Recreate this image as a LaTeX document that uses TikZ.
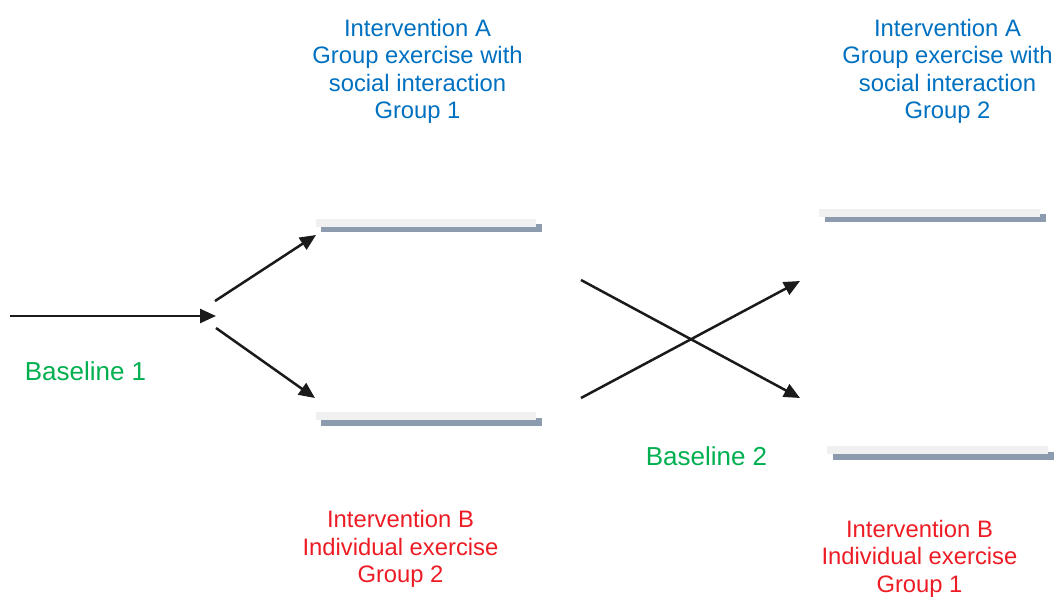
\documentclass[tikz,border=0pt]{standalone}
\usepackage{fontspec}
\setmainfont{Liberation Sans}
\usetikzlibrary{arrows.meta}
\definecolor{txtblue}{RGB}{0,112,192}
\definecolor{txtgreen}{RGB}{0,176,80}
\definecolor{txtred}{RGB}{237,28,36}
\definecolor{barlight}{RGB}{240,240,240}
\definecolor{bardark}{RGB}{140,155,174}
\definecolor{arrowcol}{RGB}{26,26,26}
\begin{document}
\begin{tikzpicture}[x=1pt,y=-1pt,
  conn/.style={draw=arrowcol,line width=2.5pt,-{Triangle[length=16pt,width=14pt]}},
  lightbar/.style={fill=barlight,draw=none},
  darkbar/.style={fill=bardark,draw=none},
  bluetxt/.style={text=txtblue,align=center,inner sep=0pt,font=\fontsize{23.8}{27.3}\selectfont},
  redtxt/.style={text=txtred,align=center,inner sep=0pt,font=\fontsize{23.8}{27.3}\selectfont},
  greentxt/.style={text=txtgreen,inner sep=0pt,font=\fontsize{26}{30}\selectfont}]
\useasboundingbox (0,0) rectangle (1055,597);
% bars
\fill[darkbar] (321,224) rectangle (542,232);
\fill[lightbar] (316,219) rectangle (536,227);
\fill[darkbar] (321,418) rectangle (542,426);
\fill[lightbar] (316,412) rectangle (536,420);
\fill[darkbar] (825,214) rectangle (1046,222);
\fill[lightbar] (819,209) rectangle (1040,217);
\fill[darkbar] (833,452) rectangle (1054,460);
\fill[lightbar] (827,446) rectangle (1048,454);
% connector end points
\coordinate (s0) at (10,316);
\coordinate (fork) at (216,316);
\coordinate (u0) at (215,301);
\coordinate (u1) at (316,235);
\coordinate (l0) at (216,328);
\coordinate (l1) at (315,398);
\coordinate (c1a) at (581,280);
\coordinate (c1b) at (800,398);
\coordinate (c2a) at (581,398);
\coordinate (c2b) at (800,281);
\draw[conn] (s0) -- (fork);
\draw[conn] (u0) -- (u1);
\draw[conn] (l0) -- (l1);
\draw[conn] (c1a) -- (c1b);
\draw[conn] (c2a) -- (c2b);
% labels (base anchor = baseline of the last line)
\node[bluetxt,anchor=base] (ia1) at (417.5,118.3) {Intervention A\\Group exercise with\\social interaction\\Group 1};
\node[bluetxt,anchor=base] (ia2) at (947.5,118.3) {Intervention A\\Group exercise with\\social interaction\\Group 2};
\node[redtxt,anchor=base] (ib2) at (400.5,582.3) {Intervention B\\Individual exercise\\Group 2};
\node[redtxt,anchor=base] (ib1) at (919.5,592) {Intervention B\\Individual exercise\\Group 1};
\node[greentxt,anchor=base] (b1) at (85.5,380) {Baseline 1};
\node[greentxt,anchor=base] (b2) at (706.5,465) {Baseline 2};
\end{tikzpicture}
\end{document}
